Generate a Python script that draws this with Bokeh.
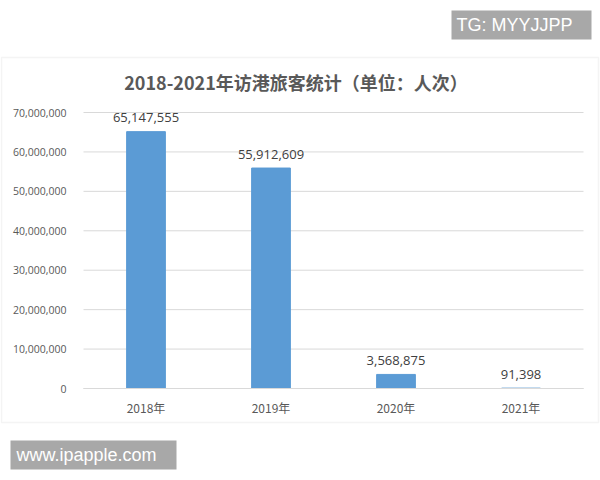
from bokeh.plotting import figure
from bokeh.models import (ColumnDataSource, Range1d, FixedTicker,
                          NumeralTickFormatter, LabelSet, Label, BoxAnnotation)
from bokeh.core.properties import value
from bokeh.embed import file_html
from bokeh.resources import INLINE

years = ["2018年", "2019年", "2020年", "2021年"]
visitors = [65147555, 55912609, 3568875, 91398]
y_ticks = [0, 10000000, 20000000, 30000000, 40000000, 50000000, 60000000, 70000000]
title_text = "2018-2021年访港旅客统计（单位：人次）"
wm_top = "TG: MYYJJPP"
wm_bottom = "www.ipapple.com"

# ---- layout constants (pixels on the 600x480 canvas) ----
W, H = 600, 480
PLOT_L, PLOT_R = 83, 583        # plot area left/right
PLOT_T, PLOT_B = 112, 388       # y of top tick / y of zero line
n = len(years)
ymax = y_ticks[-1]
px_x = (PLOT_R - PLOT_L) / n            # pixels per category
px_y = (PLOT_B - PLOT_T) / ymax         # pixels per unit
x_start = -PLOT_L / px_x
x_end = n + (W - PLOT_R) / px_x
y_start = -(H - PLOT_B) / px_y
y_end = ymax + PLOT_T / px_y

xpos = [i + 0.5 for i in range(n)]
labels = [f"{v:,}" for v in visitors]
src = ColumnDataSource(dict(x=xpos, y=visitors, lab=labels))

p = figure(width=W, height=H, x_range=Range1d(x_start, x_end),
           y_range=Range1d(y_start, y_end), output_backend="svg",
           toolbar_location=None, title=None,
           min_border_left=0, min_border_right=0, min_border_top=0,
           min_border_bottom=0)
p.outline_line_color = None
p.background_fill_color = "white"
p.border_fill_color = "white"
p.xgrid.visible = False
p.ygrid.visible = False

# outer chart box
p.add_layout(BoxAnnotation(left=1, right=598, top=H - 57, bottom=H - 422,
                           left_units="screen", right_units="screen",
                           top_units="screen", bottom_units="screen",
                           fill_color=None, fill_alpha=0,
                           line_color="#d9d9d9", line_width=1.5))

# horizontal gridlines from the tick values
p.segment(x0=[0] * len(y_ticks), x1=[n] * len(y_ticks), y0=y_ticks, y1=y_ticks,
          line_color="#d9d9d9", line_width=1)

p.vbar(x="x", top="y", width=0.31, source=src, fill_color="#5b9bd5",
       line_color="#5b9bd5")

yax = p.yaxis[0]
yax.fixed_location = 0
yax.bounds = (0, ymax)
yax.ticker = FixedTicker(ticks=y_ticks)
yax.formatter = NumeralTickFormatter(format="0,0")
yax.axis_line_color = None
yax.major_tick_line_color = None
yax.minor_tick_line_color = None
yax.major_tick_out = 0
yax.major_tick_in = 0
yax.major_label_standoff = 17
yax.major_label_text_font = "Open Sans"
yax.major_label_text_font_size = "10.5px"
yax.major_label_text_color = "#595959"

xax = p.xaxis[0]
xax.fixed_location = 0
xax.bounds = (0, n)
xax.ticker = FixedTicker(ticks=xpos)
xax.major_label_overrides = {x: y for x, y in zip(xpos, years)}
xax.axis_line_color = "#d9d9d9"
xax.major_tick_line_color = None
xax.minor_tick_line_color = None
xax.major_tick_out = 0
xax.major_tick_in = 0
xax.major_label_standoff = 10
xax.major_label_text_font = "Noto Sans CJK SC"
xax.major_label_text_font_size = "12px"
xax.major_label_text_color = "#595959"

p.add_layout(LabelSet(x="x", y="y", text="lab", source=src, y_offset=14,
                      text_align="center", text_baseline="middle",
                      text_font=value("Open Sans"), text_font_size="13px",
                      text_color="#404040"))

p.add_layout(Label(x=295.5, y=H - 81.5, x_units="screen", y_units="screen",
                   text=title_text, text_align="center", text_baseline="middle",
                   text_font="Noto Sans CJK SC", text_font_style="bold",
                   text_font_size="18px", text_color="#595959"))

# watermarks
p.add_layout(BoxAnnotation(left=451, right=591, top=H - 10, bottom=H - 39,
                           left_units="screen", right_units="screen",
                           top_units="screen", bottom_units="screen",
                           fill_color="#a8a8a8", fill_alpha=1, line_color=None))
p.add_layout(Label(x=456, y=H - 24.5, x_units="screen", y_units="screen",
                   text=wm_top, text_align="left", text_baseline="middle",
                   text_font="Liberation Sans", text_font_size="18px",
                   text_color="white"))
p.add_layout(BoxAnnotation(left=10, right=176, top=H - 440, bottom=H - 469,
                           left_units="screen", right_units="screen",
                           top_units="screen", bottom_units="screen",
                           fill_color="#a8a8a8", fill_alpha=1, line_color=None))
p.add_layout(Label(x=16, y=H - 454.5, x_units="screen", y_units="screen",
                   text=wm_bottom, text_align="left", text_baseline="middle",
                   text_font="Liberation Sans", text_font_size="18px",
                   text_color="white"))

open("out.html", "w").write(file_html(p, INLINE))
